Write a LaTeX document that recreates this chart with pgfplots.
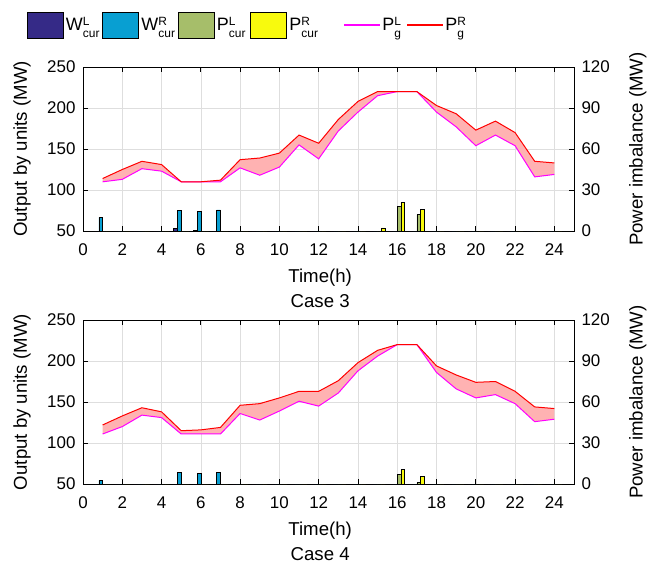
\documentclass[border=0pt]{standalone}
\usepackage{fontspec}
\setmainfont{Liberation Sans}
\usepackage{pgfplots}
\pgfplotsset{compat=1.18}
\usepackage{pgfplotstable}
\usepgfplotslibrary{fillbetween}

\definecolor{wl}{RGB}{53,42,135}
\definecolor{wr}{RGB}{8,159,210}
\definecolor{pl}{RGB}{166,190,106}
\definecolor{pr}{RGB}{248,250,13}
\definecolor{band}{RGB}{255,178,178}
\definecolor{gridc}{RGB}{222,222,222}
\definecolor{pgl}{RGB}{255,0,255}
\definecolor{pgr}{RGB}{255,0,0}

% symbol with a superscript and a subscript stacked at the same place
\newcommand\supsub[3]{#1\rlap{\raisebox{5bp}{\fontsize{12}{12}\selectfont #2}}\raisebox{-7bp}{\fontsize{12}{12}\selectfont #3}}
% legend text in a cell of fixed width
\newcommand\legtext[4]{\makebox[#4][l]{\rule{2.5bp}{0pt}\supsub{#1}{#2}{#3}}}

% ---- Case 3 ----
\pgfplotstableread{
h PgL PgR
1 110 114
2 113 125
3 126 135
4 123 131
5 110 110
6 110 110
7 110 112
8 127 137
9 118 139
10 128 145
11 155 167
12 138 157
13 172 186
14 195 208
15 215 220
16 220 220
17 220 220
18 195 203
19 177 193
20 154 173
21 167 184
22 154 170
23 116 135
24 119 133
}\caseThreeLines

\pgfplotstableread{
h WL WR PL PR
1 0 10 0 0
2 0 0 0 0
3 0 0 0 0
4 0 0 0 0
5 1.7 15 0 0
6 0.7 14.4 0 0
7 0 15.4 0 0
8 0 0 0 0
9 0 0 0 0
10 0 0 0 0
11 0 0 0 0
12 0 0 0 0
13 0 0 0 0
14 0 0 0 0
15 0 0 0 2.2
16 0 0 18 21.2
17 0 0 12 16
18 0 0 0 0
19 0 0 0 0
20 0 0 0 0
21 0 0 0 0
22 0 0 0 0
23 0 0 0 0
24 0 0 0 0
}\caseThreeBars

% ---- Case 4 ----
\pgfplotstableread{
h PgL PgR
1 111 122
2 120 133
3 134 143
4 131 138
5 111 115
6 111 116
7 111 119
8 136 146
9 128 148
10 139 155
11 151 163
12 145 163
13 161 176
14 188 198
15 206 213
16 220 220
17 220 220
18 186 194
19 166 183
20 155 174
21 159 175
22 148 163
23 126 144
24 129 142
}\caseFourLines

\pgfplotstableread{
h WL WR PL PR
1 0 2.7 0 0
2 0 0 0 0
3 0 0 0 0
4 0 0 0 0
5 0 8.3 0 0
6 0 7.8 0 0
7 0 8.3 0 0
8 0 0 0 0
9 0 0 0 0
10 0 0 0 0
11 0 0 0 0
12 0 0 0 0
13 0 0 0 0
14 0 0 0 0
15 0 0 0 0
16 0 0 7.3 10.5
17 0 0 1 5.4
18 0 0 0 0
19 0 0 0 0
20 0 0 0 0
21 0 0 0 0
22 0 0 0 0
23 0 0 0 0
24 0 0 0 0
}\caseFourBars

\pgfplotsset{
  base/.style={
    width=491bp, height=164bp, scale only axis,
    xmin=0, xmax=25,
    tick align=inside, major tick length=5bp,
    axis line style={line width=0.8bp},
    every tick/.style={black, line width=0.8bp},
    /pgf/number format/assume math mode=true,
    tick label style={font=\fontsize{17}{17}\selectfont},
    label style={font=\fontsize{18.7}{25}\selectfont},
    bar width=0.19,
  },
  leftax/.style={
    base,
    ymin=50, ymax=250, ytick={50,100,...,250},
    xtick={0,2,...,24},
    grid=major, major grid style={gridc, line width=0.6bp},
    ytick pos=left,
    xticklabel style={yshift=-9bp},
    yticklabel style={xshift=-4bp},
    ylabel={Output by units (MW)},
    ylabel style={at={(axis description cs:-0.124,0.5)}, anchor=center},
    xlabel style={align=center, at={(axis description cs:0.483,-0.351)}, anchor=center},
  },
  rightax/.style={
    base,
    ymin=0, ymax=120, ytick={0,30,...,120},
    axis y line*=right, hide x axis,
    yticklabel style={xshift=4bp},
    ylabel={Power imbalance (MW)},
    ylabel style={at={(axis description cs:1.130,0.5)}, anchor=center},
  },
  barstyle/.style={ybar, draw=black, line width=0.5bp},
  boxleg/.style={legend image code/.code={\draw[fill=#1, draw=black, line width=0.5bp] (0bp,-13bp) rectangle (36bp,13bp);}},
  lineleg/.style={legend image code/.code={\path[draw=none, fill=none] (0bp,-13bp) rectangle (36bp,13bp);\fill[fill=#1, draw=none] (0bp,-0.6bp) rectangle (36bp,0.6bp);}},
}

\begin{document}
\begin{tikzpicture}

% ===== Case 3: generator outputs =====
\begin{axis}[leftax, at={(0,0)}, anchor=north west,
  xlabel={Time(h)\\Case 3},
  legend columns=6,
  legend style={at={(axis description cs:-0.1141,1.256)}, anchor=west,
    draw=none, fill=none, inner sep=0pt, outer sep=0pt,
    nodes={inner sep=0pt, outer sep=0pt},
    font=\fontsize{18}{20}\selectfont,
    /tikz/every even column/.style={column sep=0pt}},
  legend cell align=left]
\addlegendimage{boxleg=wl}
\addlegendentry{\legtext{W}{L}{cur}{39bp}}
\addlegendimage{boxleg=wr}
\addlegendentry{\legtext{W}{R}{cur}{39bp}}
\addlegendimage{boxleg=pl}
\addlegendentry{\legtext{P}{L}{cur}{36bp}}
\addlegendimage{boxleg=pr}
\addlegendentry{\legtext{P}{R}{cur}{57bp}}
\addlegendimage{lineleg=pgl}
\addlegendentry{\legtext{P}{L}{g}{27bp}}
\addlegendimage{lineleg=pgr}
\addlegendentry{\legtext{P}{R}{g}{22bp}}

\addplot[draw=none, name path=R3] table[x=h, y=PgR] {\caseThreeLines};
\addplot[draw=none, name path=L3] table[x=h, y=PgL] {\caseThreeLines};
\addplot[band] fill between[of=R3 and L3];
\addplot[pgl, line width=1bp] table[x=h, y=PgL] {\caseThreeLines};
\addplot[pgr, line width=1bp] table[x=h, y=PgR] {\caseThreeLines};
\end{axis}

% ===== Case 3: curtailment =====
\begin{axis}[rightax, at={(0,0)}, anchor=north west]
\addplot[barstyle, fill=wl, bar shift=-0.285] table[x=h, y=WL] {\caseThreeBars};
\addplot[barstyle, fill=wr, bar shift=-0.095] table[x=h, y=WR] {\caseThreeBars};
\addplot[barstyle, fill=pl, bar shift=0.095] table[x=h, y=PL] {\caseThreeBars};
\addplot[barstyle, fill=pr, bar shift=0.285] table[x=h, y=PR] {\caseThreeBars};
\end{axis}

% ===== Case 4: generator outputs =====
\begin{axis}[leftax, at={(0,-253bp)}, anchor=north west,
  xlabel={Time(h)\\Case 4}]
\addplot[draw=none, name path=R4] table[x=h, y=PgR] {\caseFourLines};
\addplot[draw=none, name path=L4] table[x=h, y=PgL] {\caseFourLines};
\addplot[band] fill between[of=R4 and L4];
\addplot[pgl, line width=1bp] table[x=h, y=PgL] {\caseFourLines};
\addplot[pgr, line width=1bp] table[x=h, y=PgR] {\caseFourLines};
\end{axis}

% ===== Case 4: curtailment =====
\begin{axis}[rightax, at={(0,-253bp)}, anchor=north west]
\addplot[barstyle, fill=wl, bar shift=-0.285] table[x=h, y=WL] {\caseFourBars};
\addplot[barstyle, fill=wr, bar shift=-0.095] table[x=h, y=WR] {\caseFourBars};
\addplot[barstyle, fill=pl, bar shift=0.095] table[x=h, y=PL] {\caseFourBars};
\addplot[barstyle, fill=pr, bar shift=0.285] table[x=h, y=PR] {\caseFourBars};
\end{axis}

\pgfresetboundingbox
\path (-83bp,67bp) rectangle (566bp,-499bp);
\end{tikzpicture}
\end{document}
